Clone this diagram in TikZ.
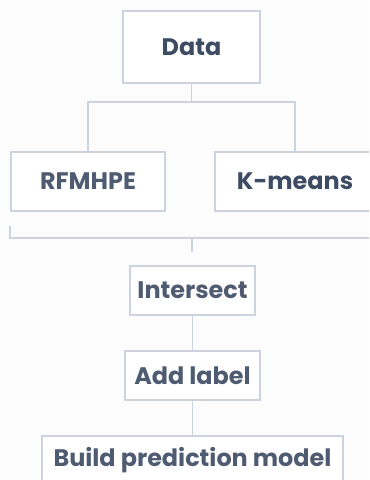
\documentclass[tikz,border=0pt]{standalone}
\usepackage{fontspec}
\setmainfont{Poppins}
\begin{document}
\begin{tikzpicture}[x=1bp,y=-1bp,
  link/.style={draw=linegray, line width=1.4bp},
  stepbox/.style={draw=linegray, line width=1.4bp, fill=white, inner sep=0pt,
    font=\fontsize{24}{28}\selectfont\bfseries, text=txtgray},
]
\definecolor{linegray}{HTML}{CDD3DE}
\definecolor{txtgray}{HTML}{4E5B71}
\definecolor{txtdark}{HTML}{3D4B63}
\definecolor{bggray}{HTML}{FCFCFD}
\clip (0,0) rectangle (369,480);
\fill[bggray] (0,0) rectangle (369,480);

% boxes
\node[stepbox, text=txtdark, minimum width=137bp, minimum height=72bp] (data) at (191.5,47) {Data};
\node[stepbox, minimum width=154bp, minimum height=59bp] (rfm) at (88,181.5) {RFMHPE};
\node[stepbox, text=txtdark, minimum width=160bp, minimum height=59bp] (km) at (295,181.5) {K-means};
\node[stepbox, minimum width=125bp, minimum height=49bp] (inter) at (192.5,290.5) {Intersect};
\node[stepbox, minimum width=135bp, minimum height=49bp] (lab) at (192.5,375.5) {Add label};
\node[stepbox, minimum width=301bp, minimum height=49bp] (build) at (192.5,460.5) {Build prediction model};

% split from Data to the two methods
\coordinate (fork) at (191.5,102);
\draw[link] (data.south) -- (fork);
\draw[link] (rfm.north) |- (fork) -| (km.north);

% bracket joining both results
\coordinate (brL) at (10,226);
\coordinate (brR) at (380,238);
\coordinate (brM) at (192,238);
\coordinate (stemEnd) at (192,252);
\draw[link] (brL) |- (brR);
\draw[link] (brM) -- (stemEnd);

% chain of steps
\draw[link] (inter.south) -- (lab.north);
\draw[link] (lab.south) -- (build.north);
\end{tikzpicture}
\end{document}
